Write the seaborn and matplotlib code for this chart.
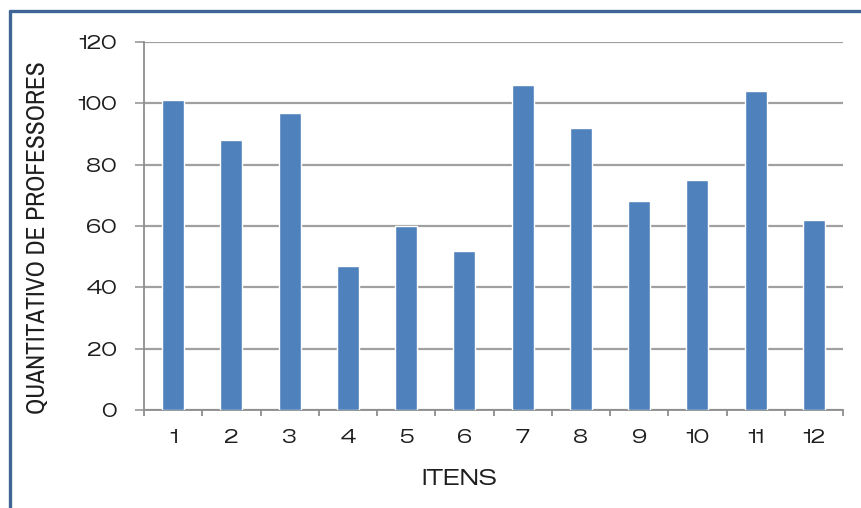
import matplotlib
matplotlib.use("Agg")
import matplotlib.pyplot as plt
from matplotlib.lines import Line2D
from matplotlib.ticker import FixedLocator
import pandas as pd
import seaborn as sns

# Number of teachers per questionnaire item
itens = ["1", "2", "3", "4", "5", "6", "7", "8", "9", "10", "11", "12"]
professores = [101, 88, 97, 47, 60, 52, 106, 92, 68, 75, 104, 62]
y_ticks = [0, 20, 40, 60, 80, 100, 120]

BAR_BLUE = "#4F81BD"
GRID_GRAY = "#A0A0A0"
AXIS_GRAY = "#8E8E8E"
FRAME_BLUE = "#3F6597"
TEXT = "#1E1E1E"

sns.set_theme(style="white")
wide = ["Zalando Sans Expanded", "Zalando Sans SemiExpanded", "DejaVu Sans"]
narrow = ["Archivo Narrow", "DejaVu Sans"]
plt.rcParams["font.family"] = wide

df = pd.DataFrame({"item": itens, "professores": professores})

fig = plt.figure(figsize=(8.61, 5.08), dpi=100)
fig.patch.set_facecolor("white")
ax = fig.add_axes([144 / 861, 1 - 410 / 508, 699 / 861, 368 / 508])

sns.barplot(data=df, x="item", y="professores", color=BAR_BLUE,
            saturation=1, width=0.38, ax=ax, zorder=3)

ax.set_xlim(-0.5, len(itens) - 0.5)
ax.set_ylim(0, 120)
ax.yaxis.set_major_locator(FixedLocator(y_ticks))
ax.set_yticklabels([str(v) for v in y_ticks])
ax.yaxis.grid(True, color=GRID_GRAY, lw=1.6, zorder=0)
ax.xaxis.grid(False)
ax.set_axisbelow(True)

for side in ("top", "right"):
    ax.spines[side].set_visible(False)
for side in ("left", "bottom"):
    ax.spines[side].set_color(AXIS_GRAY)
    ax.spines[side].set_linewidth(1.3)

# boundary ticks between categories on the x axis
ax.xaxis.set_minor_locator(FixedLocator([i - 0.5 for i in range(len(itens) + 1)]))
ax.tick_params(axis="x", which="minor", length=4, width=1.3,
               color=AXIS_GRAY, direction="out", bottom=True)
ax.tick_params(axis="x", which="major", length=0, pad=14,
               labelsize=13, labelcolor=TEXT)
ax.tick_params(axis="y", which="major", length=6.5, width=1.3,
               color=GRID_GRAY, direction="out", left=True, pad=13,
               labelsize=13, labelcolor=TEXT)
for lab in ax.get_xticklabels() + ax.get_yticklabels():
    lab.set_fontweight("semibold")

ax.set_xlabel("ITENS", fontsize=15.5, color=TEXT)
ax.xaxis.set_label_coords((459 - 144) / 699, -69 / 368)
ax.xaxis.label.set_verticalalignment("center")

ax.set_ylabel("QUANTITATIVO DE PROFESSORES", fontsize=18.3, color=TEXT,
              family=narrow)
ax.yaxis.set_label_coords((38 - 144) / 699, (410 - 238) / 368)
ax.yaxis.label.set_verticalalignment("center")

# outer frame (left and top edges)
fig.add_artist(Line2D([9.5 / 861, 9.5 / 861], [0, 1 - 10.5 / 508],
                      transform=fig.transFigure, color=FRAME_BLUE, lw=2.4))
fig.add_artist(Line2D([9.5 / 861, 1], [1 - 10.5 / 508, 1 - 10.5 / 508],
                      transform=fig.transFigure, color=FRAME_BLUE, lw=2.4))

fig.savefig("out.png", dpi=100, facecolor="white")
